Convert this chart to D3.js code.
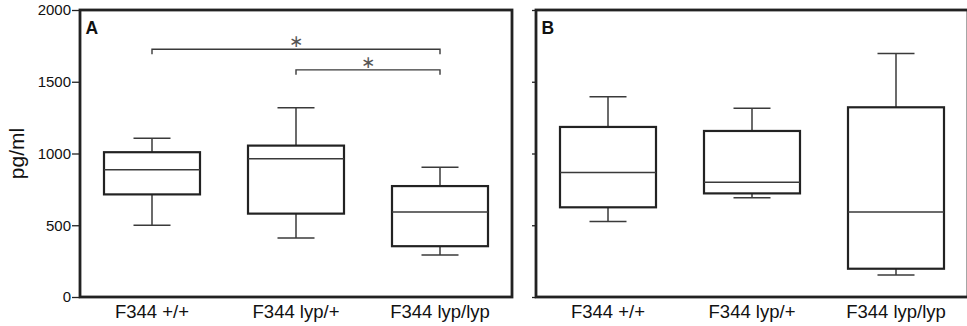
<!DOCTYPE html>
<html>
<head>
<meta charset="utf-8">
<script src="https://cdn.jsdelivr.net/npm/d3@7"></script>
<style>
  html, body { margin: 0; padding: 0; background: #fff; }
  svg { display: block; font-family: "Liberation Sans", Arial, Helvetica, sans-serif; }
</style>
</head>
<body>
<svg id="chart" width="967" height="326"></svg>
<script>
// Genotype groups on the x axis
const categories = ["F344 +/+", "F344 lyp/+", "F344 lyp/lyp"];

// Box summaries per panel: lower whisker, Q1, median, Q3, upper whisker (pg/ml)
const panelAMin    = [500, 412, 292];
const panelAQ1     = [715, 581, 354];
const panelAMedian = [887, 963, 593];
const panelAQ3     = [1009, 1055, 773];
const panelAMax    = [1106, 1319, 905];

const panelBMin    = [526, 692, 153];
const panelBQ1     = [625, 722, 197];
const panelBMedian = [868, 799, 593];
const panelBQ3     = [1185, 1157, 1322];
const panelBMax    = [1396, 1315, 1697];

// Significance brackets in panel A: [from group, to group, height in pg/ml]
const bracketFrom   = ["F344 +/+", "F344 lyp/+"];
const bracketTo     = ["F344 lyp/lyp", "F344 lyp/lyp"];
const bracketLevel  = [1727, 1583];

const yTicks = [0, 500, 1000, 1500, 2000];
const panelLetters = ["A", "B"];

const svg = d3.select("#chart");
const plotTop = 10, plotBottom = 297, panelW = 432;
const panelLeft = [80, 536];

const y = d3.scaleLinear().domain([0, 2000]).range([plotBottom, plotTop]);

function buildRows(mins, q1s, meds, q3s, maxs) {
  return categories.map((c, i) => ({
    cat: c, min: mins[i], q1: q1s[i], med: meds[i], q3: q3s[i], max: maxs[i]
  }));
}

const panels = [
  buildRows(panelAMin, panelAQ1, panelAMedian, panelAQ3, panelAMax),
  buildRows(panelBMin, panelBQ1, panelBMedian, panelBQ3, panelBMax)
];

const stroke = "#222";
const whiskerStroke = "#3a3a3a";

panels.forEach((rows, p) => {
  const left = panelLeft[p];
  const x = d3.scalePoint().domain(categories).range([left, left + panelW]).padding(0.5);
  const step = x.step();
  const boxW = step * 2 / 3;
  const capW = 37;

  const g = svg.append("g");

  // y axis ticks (labels only on the first panel)
  const axis = d3.axisLeft(y).tickValues(yTicks).tickSizeOuter(0).tickFormat(d3.format("d"));
  if (p === 0) axis.tickSize(8).tickPadding(1);
  else axis.tickSize(4).tickFormat("");
  const ax = g.append("g").attr("transform", `translate(${left},0)`).call(axis);
  ax.select(".domain").remove();
  ax.selectAll(".tick line").attr("stroke", stroke).attr("stroke-width", 1.3);
  ax.selectAll(".tick text").attr("fill", "#111").style("font-size", "15px")
    .style("font-family", "'Liberation Sans', Arial, sans-serif");

  // whiskers
  const bx = g.selectAll(".box").data(rows).enter().append("g");
  bx.append("line")
    .attr("x1", d => x(d.cat)).attr("x2", d => x(d.cat))
    .attr("y1", d => y(d.max)).attr("y2", d => y(d.q3))
    .attr("stroke", whiskerStroke).attr("stroke-width", 1.5);
  bx.append("line")
    .attr("x1", d => x(d.cat)).attr("x2", d => x(d.cat))
    .attr("y1", d => y(d.q1)).attr("y2", d => y(d.min))
    .attr("stroke", whiskerStroke).attr("stroke-width", 1.5);
  bx.append("line")
    .attr("x1", d => x(d.cat) - capW / 2).attr("x2", d => x(d.cat) + capW / 2)
    .attr("y1", d => y(d.max)).attr("y2", d => y(d.max))
    .attr("stroke", whiskerStroke).attr("stroke-width", 1.5);
  bx.append("line")
    .attr("x1", d => x(d.cat) - capW / 2).attr("x2", d => x(d.cat) + capW / 2)
    .attr("y1", d => y(d.min)).attr("y2", d => y(d.min))
    .attr("stroke", whiskerStroke).attr("stroke-width", 1.5);

  // boxes
  bx.append("rect")
    .attr("x", d => x(d.cat) - boxW / 2).attr("width", boxW)
    .attr("y", d => y(d.q3)).attr("height", d => y(d.q1) - y(d.q3))
    .attr("fill", "none").attr("stroke", stroke).attr("stroke-width", 2.2);
  // medians
  bx.append("line")
    .attr("x1", d => x(d.cat) - boxW / 2).attr("x2", d => x(d.cat) + boxW / 2)
    .attr("y1", d => y(d.med)).attr("y2", d => y(d.med))
    .attr("stroke", whiskerStroke).attr("stroke-width", 1.5);

  // panel frame
  g.append("rect")
    .attr("x", left).attr("y", plotTop)
    .attr("width", panelW).attr("height", plotBottom - plotTop)
    .attr("fill", "none").attr("stroke", stroke).attr("stroke-width", 2.8);

  // panel letter
  g.append("text")
    .attr("x", left + 5.5).attr("y", plotTop + 23.5)
    .attr("font-weight", "bold").attr("font-size", 17.5).attr("fill", "#111")
    .text(panelLetters[p]);

  // category labels
  g.selectAll(".cat").data(categories).enter().append("text")
    .attr("x", d => x(d)).attr("y", 318)
    .attr("text-anchor", "middle").attr("font-size", 18.5).attr("fill", "#111")
    .text(d => d);

  // significance brackets
  if (p === 0) {
    bracketLevel.forEach((lv, i) => {
      const x1 = x(bracketFrom[i]), x2 = x(bracketTo[i]), yy = y(lv);
      g.append("path")
        .attr("d", `M${x1},${yy + 5}V${yy}H${x2}V${yy + 5}`)
        .attr("fill", "none").attr("stroke", whiskerStroke).attr("stroke-width", 1.4);
      g.append("text")
        .attr("x", (x1 + x2) / 2).attr("y", yy - 2)
        .attr("text-anchor", "middle").attr("font-size", 17)
        .attr("font-family", "'DejaVu Sans', sans-serif").attr("fill", "#555")
        .text("∗");
    });
  }
});

// y axis title
svg.append("text")
  .attr("transform", `translate(24,${(plotTop + plotBottom) / 2}) rotate(-90)`)
  .attr("text-anchor", "middle").attr("font-size", 21).attr("fill", "#111")
  .text("pg/ml");
</script>
</body>
</html>
